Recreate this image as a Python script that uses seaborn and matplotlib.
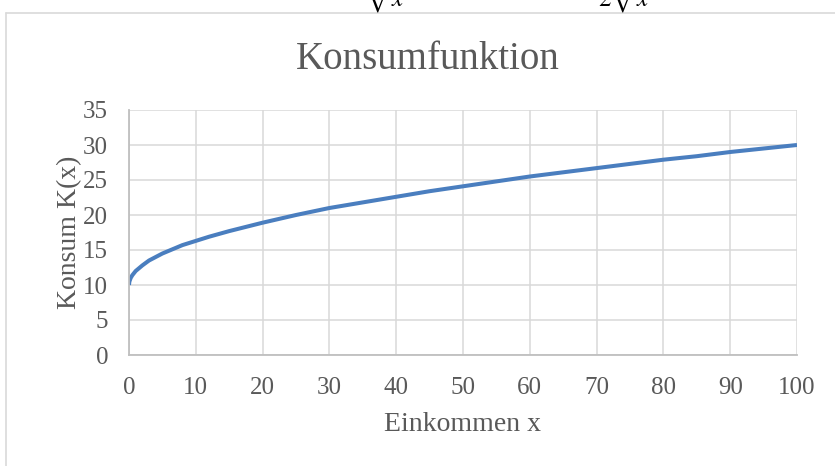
import matplotlib
matplotlib.use("Agg")
import matplotlib.pyplot as plt
import seaborn as sns
import pandas as pd
from matplotlib.lines import Line2D

# Data
einkommen = [0, 0.05, 0.1, 0.25, 0.5, 1, 2, 3, 4, 5, 6, 8, 10, 12, 15, 20, 25, 30, 35, 40,
             45, 50, 55, 60, 65, 70, 75, 80, 85, 90, 95, 100]
konsum = [10.0, 10.45, 10.6, 11.0, 11.4, 12.0, 12.8, 13.5, 14.0, 14.5, 14.9, 15.7, 16.3, 16.9,
          17.7, 18.9, 20.0, 21.0, 21.8, 22.6, 23.4, 24.1, 24.8, 25.5, 26.1, 26.7, 27.3,
          27.9, 28.4, 29.0, 29.5, 30.0]
x_ticks = [0, 10, 20, 30, 40, 50, 60, 70, 80, 90, 100]
y_ticks = [0, 5, 10, 15, 20, 25, 30, 35]

df = pd.DataFrame({"Einkommen x": einkommen, "Konsum K(x)": konsum})

sns.set_theme(style="white")
plt.rcParams['font.family'] = ['Liberation Serif', 'DejaVu Serif']
plt.rcParams['mathtext.fontset'] = 'stix'

W, H = 835, 466
fig = plt.figure(figsize=(W / 100, H / 100), dpi=100)
ax = fig.add_axes([129 / W, 1 - 355 / H, (797 - 129) / W, (355 - 110) / H])

text_col = "#595959"
grid_col = "#D9D9D9"

sns.lineplot(data=df, x="Einkommen x", y="Konsum K(x)", ax=ax, color="#4A7EBF",
             linewidth=2.9, solid_capstyle="butt")

ax.set_xlim(0, 100)
ax.set_ylim(0, 35)
ax.set_xticks(x_ticks)
ax.set_yticks(y_ticks)
ax.grid(True, color=grid_col, linewidth=1.1)
ax.set_axisbelow(True)
for s in ["top", "right"]:
    ax.spines[s].set_visible(False)
for s in ["left", "bottom"]:
    ax.spines[s].set_color("#BFBFBF")
    ax.spines[s].set_linewidth(1.3)
ax.tick_params(axis="both", length=0, labelsize=18, colors=text_col)
ax.tick_params(axis="x", pad=16)
ax.tick_params(axis="y", pad=15)
ax.set_xlabel("Einkommen x", fontsize=20, color=text_col, labelpad=9)
ax.set_ylabel("Konsum K(x)", fontsize=20, color=text_col, labelpad=1)

fig.text(428 / W, 1 - 60 / H, "Konsumfunktion", fontsize=28, color=text_col,
         ha="center", va="center")

# chart border (cropped on right and bottom)
fig.add_artist(Line2D([6 / W, 1], [1 - 13 / H, 1 - 13 / H], transform=fig.transFigure,
                      color=grid_col, linewidth=1.2))
fig.add_artist(Line2D([6 / W, 6 / W], [0, 1 - 13 / H], transform=fig.transFigure,
                      color=grid_col, linewidth=1.2))

# cut-off formula fragments from the document above
fig.text(386 / W, 1 - 7 / H, r"$\sqrt{x}$", fontsize=18, color="black",
         ha="center", va="baseline")
fig.text(626 / W, 1 - 7 / H, r"$2\sqrt{x}$", fontsize=18, color="black",
         ha="center", va="baseline")

fig.savefig("out.png", dpi=100, facecolor="white")
